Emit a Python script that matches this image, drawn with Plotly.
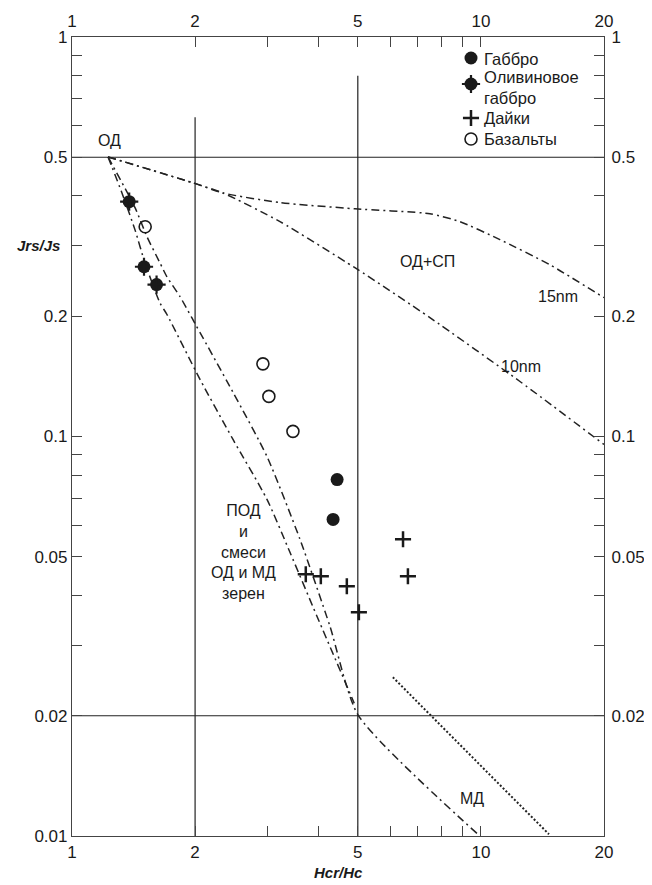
import plotly.graph_objects as go
import numpy as np

# ---------------- data ----------------
gabbro_x = [4.45, 4.35]
gabbro_y = [0.078, 0.062]

olivine_x = [1.38, 1.50, 1.61]
olivine_y = [0.387, 0.266, 0.240]

dykes_x = [3.73, 4.06, 4.70, 5.03, 6.45, 6.63]
dykes_y = [0.0452, 0.0447, 0.0422, 0.0363, 0.0553, 0.0447]

basalt_x = [1.51, 2.93, 3.03, 3.47]
basalt_y = [0.335, 0.152, 0.126, 0.103]

# SD+SP mixing curves
curve15_x = [1.225, 1.976, 2.34, 3.226, 4.919, 7.504, 8.885, 11.13, 14.75, 20.0]
curve15_y = [0.501, 0.4315, 0.407, 0.385, 0.3715, 0.361, 0.345, 0.311, 0.269, 0.2226]
curve10_x = [1.225, 1.976, 2.34, 3.226, 4.919, 7.504, 12.46, 20.0]
curve10_y = [0.501, 0.4315, 0.407, 0.345, 0.2645, 0.1984, 0.1373, 0.0955]

# SD+MD mixing curves
sdmd_a_x = [1.225, 1.325, 1.426, 1.508, 1.641, 1.707, 2.056, 2.476, 2.998, 3.412, 3.972, 4.90]
sdmd_a_y = [0.501, 0.407, 0.329, 0.272, 0.216, 0.202, 0.139, 0.0983, 0.0696, 0.0513, 0.0355, 0.0215]
sdmd_b_x = [1.225, 1.426, 1.526, 1.641, 1.707, 1.837, 1.965, 2.476, 2.998, 3.61, 4.274, 5.005, 9.94]
sdmd_b_y = [0.501, 0.374, 0.316, 0.272, 0.251, 0.224, 0.198, 0.129, 0.0891, 0.0553, 0.0335, 0.0201, 0.0100]

# MD line (dotted)
md_x = [6.09, 14.67]
md_y = [0.02497, 0.0101]

# reference lines
hline_vals = [0.5, 0.02]
vline_vals = [2, 5]
vline_tops = [0.63, 0.80]

# ticks
x_tickvals = [1, 2, 3, 4, 5, 6, 7, 8, 9, 10, 20]
x_ticktext = ["1", "2", "", "", "5", "", "", "", "", "10", "20"]
y_tickvals = [0.01, 0.02, 0.03, 0.04, 0.05, 0.06, 0.07, 0.08, 0.09,
              0.1, 0.2, 0.3, 0.4, 0.5, 0.6, 0.7, 0.8, 0.9, 1]
y_ticktext_left = ["0.01", "0.02", "", "", "0.05", "", "", "", "",
                   "0.1", "0.2", "", "", "0.5", "", "", "", "", "1"]
y_ticktext_right = ["", "0.02", "", "", "0.05", "", "", "", "",
                    "0.1", "0.2", "", "", "0.5", "", "", "", "", "1"]

legend_names = ["Габбро", "Оливиновое<br>габбро", "Дайки", "Базальты"]
legend_rows = [0.9737, 0.9412, 0.8986, 0.8723]  # positions of legend keys

FONT = "Liberation Sans, Arial, sans-serif"
INK = "#1a1a1a"
LINE = "#222222"

fig = go.Figure()

dashdot = dict(color=LINE, width=1.5, dash="8px,4px,2px,4px")
for cx, cy in [(curve15_x, curve15_y), (curve10_x, curve10_y),
               (sdmd_a_x, sdmd_a_y), (sdmd_b_x, sdmd_b_y)]:
    fig.add_trace(go.Scatter(x=cx, y=cy, mode="lines",
                             line=dict(**dashdot, shape="spline", smoothing=0.6),
                             showlegend=False, hoverinfo="skip"))
fig.add_trace(go.Scatter(x=md_x, y=md_y, mode="lines",
                         line=dict(color=LINE, width=2, dash="2px,2px"),
                         showlegend=False, hoverinfo="skip"))

# points
fig.add_trace(go.Scatter(x=gabbro_x, y=gabbro_y, mode="markers", name="Габбро",
                         marker=dict(symbol="circle", size=13, color=INK), showlegend=False))
fig.add_trace(go.Scatter(x=olivine_x, y=olivine_y, mode="markers", name="Оливиновое габбро",
                         marker=dict(symbol="circle", size=13, color=INK), showlegend=False))
fig.add_trace(go.Scatter(x=olivine_x, y=olivine_y, mode="markers",
                         marker=dict(symbol="cross-thin", size=13, line=dict(width=2.2, color=INK)),
                         showlegend=False, hoverinfo="skip"))
fig.add_trace(go.Scatter(x=dykes_x, y=dykes_y, mode="markers", name="Дайки",
                         marker=dict(symbol="cross-thin", size=11.5, line=dict(width=2.5, color=INK)),
                         showlegend=False))
fig.add_trace(go.Scatter(x=basalt_x, y=basalt_y, mode="markers", name="Базальты",
                         marker=dict(symbol="circle-open", size=12, color=INK, line=dict(width=1.6)),
                         showlegend=False))

# legend keys on an invisible overlay axis
lx = 0.75
fig.add_trace(go.Scatter(x=[lx], y=[legend_rows[0]], xaxis="x4", yaxis="y4", mode="markers",
                         marker=dict(symbol="circle", size=13, color=INK), showlegend=False, hoverinfo="skip"))
fig.add_trace(go.Scatter(x=[lx], y=[legend_rows[1]], xaxis="x4", yaxis="y4", mode="markers",
                         marker=dict(symbol="circle", size=13, color=INK), showlegend=False, hoverinfo="skip"))
fig.add_trace(go.Scatter(x=[lx], y=[legend_rows[1]], xaxis="x4", yaxis="y4", mode="markers",
                         marker=dict(symbol="cross-thin", size=13, line=dict(width=2.2, color=INK)),
                         showlegend=False, hoverinfo="skip"))
fig.add_trace(go.Scatter(x=[lx], y=[legend_rows[2]], xaxis="x4", yaxis="y4", mode="markers",
                         marker=dict(symbol="cross-thin", size=11.5, line=dict(width=2.5, color=INK)),
                         showlegend=False, hoverinfo="skip"))
fig.add_trace(go.Scatter(x=[lx], y=[legend_rows[3]], xaxis="x4", yaxis="y4", mode="markers",
                         marker=dict(symbol="circle-open", size=12, color=INK, line=dict(width=1.6)),
                         showlegend=False, hoverinfo="skip"))

annotations = []
legend_text_y = [0.9725, 0.9370, 0.8986, 0.8723]
for name, ty in zip(legend_names, legend_text_y):
    annotations.append(dict(x=0.771, y=ty, xref="paper", yref="paper", text=name, showarrow=False,
                            xanchor="left", yanchor="middle", align="left",
                            font=dict(family=FONT, size=16.5, color=INK)))

# in-plot labels
labels = [
    ("ОД", 1.238, 0.55),
    ("ОД+СП", 7.42, 0.274),
    ("15nm", 15.4, 0.224),
    ("10nm", 12.5, 0.150),
    ("ПОД<br>и<br>смеси<br>ОД и МД<br>зерен", 2.62, 0.0515),
    ("МД", 9.5, 0.0124),
]
for t, x, y in labels:
    annotations.append(dict(x=np.log10(x), y=np.log10(y), xref="x", yref="y", text=t, showarrow=False,
                            xanchor="center", yanchor="middle",
                            font=dict(family=FONT, size=16, color=INK)))

# axis titles
annotations.append(dict(x=(38 - 72) / 532, y=(836 - 245) / 799, xref="paper", yref="paper",
                        text="<b><i>Jrs/Js</i></b>", xanchor="center", yanchor="middle",
                        showarrow=False, font=dict(family=FONT, size=15, color=INK)))
annotations.append(dict(x=0.5, y=-(872 - 836) / 799, xref="paper", yref="paper",
                        text="<b><i>Hcr/Hc</i></b>", xanchor="center", yanchor="middle",
                        showarrow=False, font=dict(family=FONT, size=15, color=INK)))

shapes = []
for v in hline_vals:
    shapes.append(dict(type="line", xref="x", yref="y", x0=1, x1=20, y0=v, y1=v,
                       line=dict(color=LINE, width=1.2), layer="below"))
for v, top in zip(vline_vals, vline_tops):
    shapes.append(dict(type="line", xref="x", yref="y", x0=v, x1=v, y0=0.01, y1=top,
                       line=dict(color=LINE, width=1.2), layer="below"))

axis_common = dict(type="log", ticks="inside", ticklen=10, tickcolor="#444", showgrid=False,
                   zeroline=False, showline=True, linecolor="#444", linewidth=1.2,
                   automargin=False,
                   tickfont=dict(family=FONT, size=17, color=INK))

fig.update_layout(
    width=644, height=877,
    margin=dict(l=64, r=48, t=29, b=49),
    paper_bgcolor="white", plot_bgcolor="white",
    font=dict(family=FONT, size=16, color=INK),
    xaxis=dict(**axis_common, range=[0, np.log10(20)], tickvals=x_tickvals, ticktext=x_ticktext),
    xaxis2=dict(**axis_common, range=[0, np.log10(20)], tickvals=x_tickvals, ticktext=x_ticktext,
                overlaying="x", side="top", matches="x", ticklabelstandoff=2),
    yaxis=dict(**axis_common, range=[-2, 0], tickvals=y_tickvals, ticktext=y_ticktext_left),
    yaxis2=dict(**axis_common, range=[-2, 0], tickvals=y_tickvals, ticktext=y_ticktext_right,
                overlaying="y", side="right", matches="y", ticklabelstandoff=3),
    xaxis4=dict(range=[0, 1], visible=False, overlaying="x", fixedrange=True, automargin=False),
    yaxis4=dict(range=[0, 1], visible=False, overlaying="y", fixedrange=True, automargin=False),
    annotations=annotations,
    shapes=shapes,
    showlegend=False,
)
# invisible trace so the top/right axes are drawn
fig.add_trace(go.Scatter(x=[1], y=[1], xaxis="x2", yaxis="y2", mode="markers",
                         marker=dict(opacity=0), showlegend=False, hoverinfo="skip"))

fig.write_html("out.html")
